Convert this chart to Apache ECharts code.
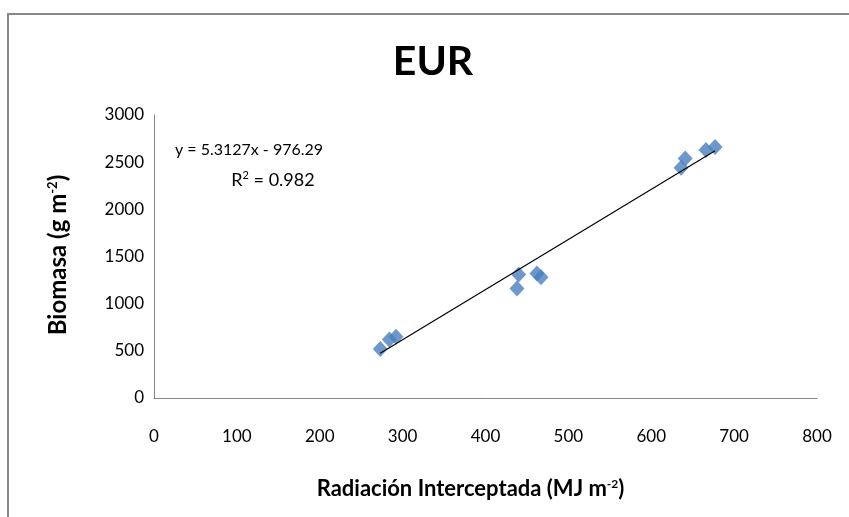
<!DOCTYPE html>
<html><head><meta charset="utf-8">
<script src="https://cdn.jsdelivr.net/npm/echarts@6/dist/echarts.min.js"></script>
<style>html,body{margin:0;padding:0;background:#fff}#c{width:849px;height:517px}</style>
</head><body><div id="c"></div>
<script>
const radiation = [273, 284, 292, 438, 440, 462, 467, 636, 641, 666, 677];
const biomass   = [520, 620, 650, 1160, 1310, 1320, 1280, 2440, 2540, 2630, 2660];
const slope = 5.3127, intercept = -976.29, r2 = 0.982;
const xTicks = [0, 100, 200, 300, 400, 500, 600, 700, 800];
const yTicks = [0, 500, 1000, 1500, 2000, 2500, 3000];

const pts = radiation.map((x, i) => [x, biomass[i]]);
const xMin = Math.min(...radiation), xMax = Math.max(...radiation);
const trend = [[xMin, slope * xMin + intercept], [xMax, slope * xMax + intercept]];
const font = "Lato, 'Open Sans', sans-serif";

const chart = echarts.init(document.getElementById('c'));
chart.setOption({
  animation: false,
  backgroundColor: '#fff',
  title: {
    text: 'EUR', left: 428, top: 36, textAlign: 'center',
    textStyle: { fontFamily: font, fontWeight: 'bold', fontSize: 41, color: '#000' }
  },
  grid: { left: 154, right: 32, top: 115, bottom: 119 },
  xAxis: {
    type: 'value', min: xTicks[0], max: xTicks[xTicks.length - 1], interval: 100,
    splitLine: { show: false },
    axisLine: { lineStyle: { color: '#868686', width: 1 } },
    axisTick: { show: false },
    axisLabel: { fontFamily: font, fontSize: 17, color: '#000', margin: 30, formatter: v => String(v) },
    name: '{t|Radiación Interceptada (MJ m}{s|-2}{t|)}',
    nameLocation: 'middle', nameGap: 80,
    nameTextStyle: { padding: [0, 30, 0, 0], rich: {
      t: { fontFamily: font, fontSize: 22, fontWeight: 'bold', color: '#000' },
      s: { fontFamily: font, fontSize: 12, fontWeight: 'bold', color: '#000', verticalAlign: 'top', padding: [0, 0, 10, 0] }
    } }
  },
  yAxis: {
    type: 'value', min: yTicks[0], max: yTicks[yTicks.length - 1], interval: 500,
    splitLine: { show: false },
    axisLine: { show: true, lineStyle: { color: '#868686', width: 1 } },
    axisTick: { show: false },
    axisLabel: { fontFamily: font, fontSize: 17, color: '#000', margin: 10, formatter: v => String(v) }
  },
  graphic: [
    { type: 'rect', shape: { x: 8, y: 14, width: 900, height: 600 },
      style: { fill: 'none', stroke: '#878787', lineWidth: 2 }, silent: true },
    { type: 'text', x: 58, y: 255, rotation: Math.PI / 2,
      style: { text: '{t|Biomasa (g m}{s|-2}{t|)}', align: 'center', verticalAlign: 'middle', rich: {
        t: { fontFamily: font, fontSize: 24, fontWeight: 'bold', fill: '#000' },
        s: { fontFamily: font, fontSize: 13, fontWeight: 'bold', fill: '#000', verticalAlign: 'top', padding: [0, 0, 11, 0] }
      } } },
    { type: 'text', x: 249, y: 142,
      style: { text: 'y = 5.3127x - 976.29', font: "16px Lato, sans-serif", fill: '#000', align: 'center' } },
    { type: 'text', x: 273, y: 170,
      style: { text: '{t|R}{s|2}{t| = ' + r2 + '}', align: 'center', rich: {
        t: { fontFamily: font, fontSize: 18, fill: '#000' },
        s: { fontFamily: font, fontSize: 11, fill: '#000', verticalAlign: 'top', padding: [0, 0, 9, 0] }
      } } }
  ],
  series: [
    { type: 'line', data: trend, symbol: 'none', lineStyle: { color: '#000', width: 1.2 }, z: 3 },
    { type: 'scatter', data: pts, symbol: 'diamond', symbolSize: [15, 16],
      itemStyle: { color: '#4a7ebb' }, z: 2 }
  ]
});
</script></body></html>
